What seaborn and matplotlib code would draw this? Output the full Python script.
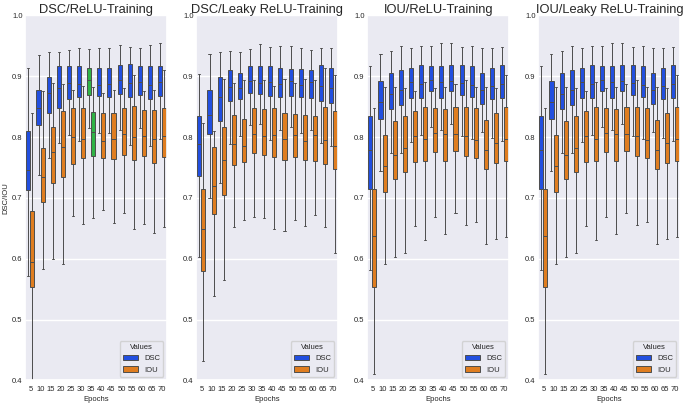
import matplotlib
matplotlib.use("Agg")
import matplotlib.pyplot as plt
import numpy as np
import pandas as pd
import seaborn as sns

epochs = [5, 10, 15, 20, 25, 30, 35, 40, 45, 50, 55, 60, 65, 70]
titles = ["DSC/ReLU-Training", "DSC/Leaky ReLU-Training",
          "IOU/ReLU-Training", "IOU/Leaky ReLU-Training"]

# each row: whisker low, q1, median, q3, whisker high (one row per epoch)
dsc_relu_dsc = [
    [0.572, 0.713, 0.746, 0.810, 0.913], [0.738, 0.819, 0.847, 0.878, 0.935],
    [0.766, 0.840, 0.873, 0.899, 0.940], [0.790, 0.847, 0.880, 0.916, 0.940],
    [0.804, 0.862, 0.889, 0.917, 0.943], [0.793, 0.866, 0.887, 0.917, 0.947],
    [0.815, 0.869, 0.894, 0.914, 0.944], [0.807, 0.868, 0.886, 0.913, 0.946],
    [0.807, 0.866, 0.887, 0.913, 0.947], [0.811, 0.870, 0.894, 0.918, 0.951],
    [0.787, 0.865, 0.889, 0.920, 0.948], [0.815, 0.869, 0.890, 0.916, 0.946],
    [0.785, 0.862, 0.885, 0.916, 0.951], [0.796, 0.868, 0.891, 0.917, 0.954],
]
dsc_relu_iou = [
    [0.400, 0.553, 0.595, 0.679, 0.839], [0.583, 0.694, 0.735, 0.782, 0.876],
    [0.600, 0.725, 0.775, 0.816, 0.888], [0.591, 0.735, 0.784, 0.842, 0.887],
    [0.670, 0.756, 0.800, 0.847, 0.878], [0.657, 0.766, 0.796, 0.847, 0.884],
    [0.667, 0.769, 0.808, 0.841, 0.883], [0.680, 0.766, 0.793, 0.839, 0.873],
    [0.659, 0.764, 0.797, 0.840, 0.877], [0.675, 0.771, 0.805, 0.847, 0.880],
    [0.649, 0.763, 0.800, 0.851, 0.902], [0.657, 0.769, 0.802, 0.844, 0.876],
    [0.643, 0.757, 0.796, 0.844, 0.877], [0.652, 0.767, 0.802, 0.847, 0.910],
]
dsc_leaky_dsc = [
    [0.603, 0.736, 0.789, 0.834, 0.904], [0.700, 0.805, 0.837, 0.878, 0.937],
    [0.724, 0.826, 0.865, 0.899, 0.939], [0.789, 0.859, 0.882, 0.910, 0.941],
    [0.802, 0.863, 0.880, 0.906, 0.940], [0.820, 0.873, 0.892, 0.917, 0.944],
    [0.822, 0.870, 0.888, 0.917, 0.953], [0.795, 0.868, 0.891, 0.917, 0.948],
    [0.811, 0.865, 0.887, 0.913, 0.950], [0.817, 0.868, 0.892, 0.911, 0.949],
    [0.807, 0.865, 0.886, 0.911, 0.946], [0.812, 0.864, 0.891, 0.910, 0.943],
    [0.790, 0.860, 0.884, 0.918, 0.946], [0.785, 0.856, 0.880, 0.914, 0.947],
]
dsc_leaky_iou = [
    [0.432, 0.580, 0.649, 0.715, 0.823], [0.539, 0.674, 0.719, 0.784, 0.810],
    [0.565, 0.704, 0.762, 0.816, 0.896], [0.652, 0.754, 0.789, 0.836, 0.889],
    [0.663, 0.759, 0.786, 0.829, 0.894], [0.669, 0.774, 0.805, 0.847, 0.894],
    [0.667, 0.771, 0.801, 0.846, 0.893], [0.649, 0.767, 0.803, 0.847, 0.884],
    [0.646, 0.762, 0.796, 0.839, 0.896], [0.664, 0.767, 0.804, 0.838, 0.888],
    [0.654, 0.762, 0.793, 0.837, 0.896], [0.672, 0.760, 0.804, 0.835, 0.894],
    [0.652, 0.755, 0.795, 0.849, 0.913], [0.609, 0.748, 0.786, 0.842, 0.902],
]
iou_relu_dsc = [
    [0.582, 0.715, 0.779, 0.834, 0.916], [0.744, 0.830, 0.858, 0.892, 0.937],
    [0.773, 0.846, 0.870, 0.906, 0.942], [0.774, 0.853, 0.878, 0.910, 0.950],
    [0.791, 0.864, 0.891, 0.914, 0.947], [0.804, 0.864, 0.887, 0.918, 0.949],
    [0.817, 0.875, 0.894, 0.917, 0.950], [0.811, 0.864, 0.891, 0.917, 0.954],
    [0.822, 0.875, 0.892, 0.919, 0.955], [0.802, 0.869, 0.889, 0.919, 0.948],
    [0.797, 0.866, 0.886, 0.917, 0.950], [0.809, 0.854, 0.877, 0.906, 0.947],
    [0.798, 0.862, 0.884, 0.913, 0.947], [0.793, 0.864, 0.887, 0.919, 0.948],
]
iou_relu_iou = [
    [0.411, 0.554, 0.638, 0.715, 0.847], [0.591, 0.710, 0.753, 0.804, 0.882],
    [0.603, 0.731, 0.771, 0.827, 0.882], [0.609, 0.743, 0.782, 0.835, 0.880],
    [0.653, 0.759, 0.802, 0.842, 0.875], [0.631, 0.760, 0.797, 0.849, 0.891],
    [0.668, 0.775, 0.807, 0.847, 0.880], [0.640, 0.760, 0.805, 0.846, 0.882],
    [0.675, 0.777, 0.805, 0.850, 0.887], [0.655, 0.769, 0.801, 0.849, 0.894],
    [0.660, 0.765, 0.795, 0.847, 0.882], [0.624, 0.747, 0.779, 0.828, 0.883],
    [0.632, 0.758, 0.790, 0.840, 0.880], [0.635, 0.761, 0.797, 0.849, 0.902],
]
# the Leaky ReLU IOU-trained panel shows the same boxes as the ReLU one
iou_leaky_dsc = iou_relu_dsc
iou_leaky_iou = iou_relu_iou

panels = [(dsc_relu_dsc, dsc_relu_iou), (dsc_leaky_dsc, dsc_leaky_iou),
          (iou_relu_dsc, iou_relu_iou), (iou_leaky_dsc, iou_leaky_iou)]


def make_frame(dsc, iou):
    rows = []
    for metric, stats in (("DSC", dsc), ("IOU", iou)):
        for ep, five in zip(epochs, stats):
            for v in five:
                rows.append((ep, metric, v))
    return pd.DataFrame(rows, columns=["Epochs", "Values", "Score"])


sns.set_theme(style="darkgrid")
plt.rcParams["font.family"] = ["Liberation Sans", "DejaVu Sans"]

fig, axes = plt.subplots(1, 4, figsize=(6.85, 4.03), dpi=100)
fig.subplots_adjust(left=0.037, right=0.993, top=0.962, bottom=0.056, wspace=0.205)

green = sns.desaturate(sns.color_palette("bright")[2], 0.75)

for i, (ax, (dsc, iou)) in enumerate(zip(axes, panels)):
    df = make_frame(dsc, iou)
    sns.boxplot(data=df, x="Epochs", y="Score", hue="Values", palette="bright",
                whis=(0, 100), linewidth=0.7, ax=ax)
    if i == 0:
        # epoch 35 highlighted in green in the first panel
        for p in ax.patches:
            ext = p.get_path().get_extents()
            if abs((ext.x0 + ext.x1) / 2 - 6) < 0.5:
                p.set_facecolor(green)
    ax.set_ylim(0.4, 1.0)
    ax.set_yticks(np.arange(0.4, 1.01, 0.1))
    ax.tick_params(labelsize=5.5, pad=2, length=0)
    ax.tick_params(axis="x", pad=4)
    ax.set_xlabel("Epochs", fontsize=5.5, labelpad=2)
    ax.set_ylabel("DSC/IOU" if i == 0 else "", fontsize=5.5, labelpad=2)
    ax.set_title(titles[i], fontsize=9.3, pad=2)
    ax.legend(title="Values", loc="lower right", fontsize=5.5, title_fontsize=5.5)

plt.savefig("out.png", dpi=100)
